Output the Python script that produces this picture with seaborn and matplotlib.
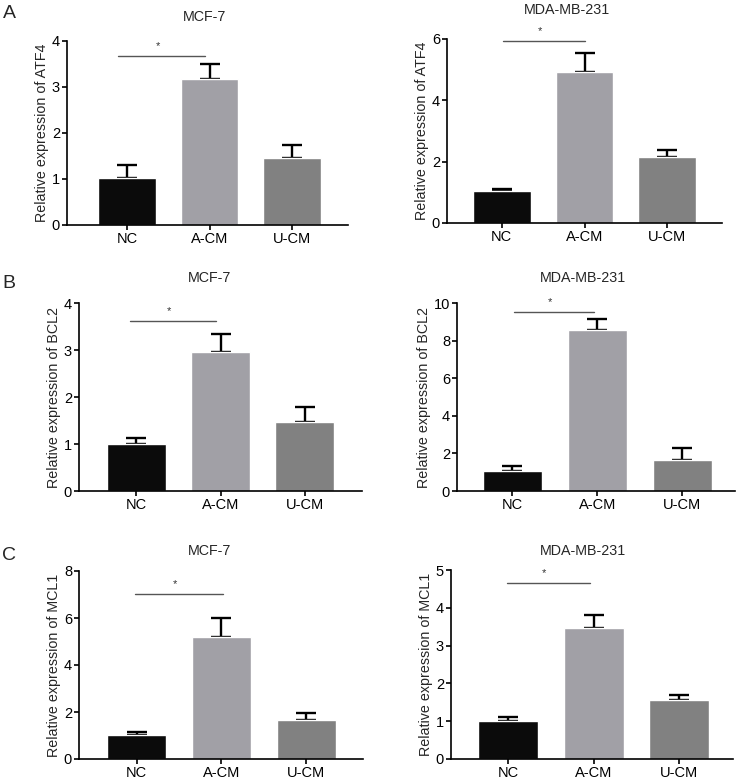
import matplotlib
matplotlib.use("Agg")
import matplotlib.pyplot as plt
import seaborn as sns
import pandas as pd

sns.set_theme(style="ticks")
plt.rcParams['font.family'] = ['Liberation Sans', 'DejaVu Sans']

categories = ["NC", "A-CM", "U-CM"]
bar_colors = ["#0b0b0b", "#a1a0a6", "#818181"]

atf4_mcf7 = [1.02, 3.18, 1.45]
atf4_mcf7_err = [0.29, 0.33, 0.30]
atf4_mda = [1.03, 4.91, 2.15]
atf4_mda_err = [0.09, 0.62, 0.24]
bcl2_mcf7 = [1.01, 2.95, 1.47]
bcl2_mcf7_err = [0.11, 0.39, 0.32]
bcl2_mda = [1.05, 8.58, 1.67]
bcl2_mda_err = [0.27, 0.58, 0.64]
mcl1_mcf7 = [1.03, 5.18, 1.64]
mcl1_mcf7_err = [0.10, 0.81, 0.31]
mcl1_mda = [1.01, 3.46, 1.57]
mcl1_mda_err = [0.09, 0.35, 0.11]

titles = ["MCF-7", "MDA-MB-231"]
genes = ["ATF4", "BCL2", "MCL1"]
ymax = [4, 6, 4, 10, 8, 5]
ystep = [1, 2, 1, 2, 2, 1]
sig_level = [3.68, 5.93, 3.62, 9.52, 7.01, 4.65]

panels = [
    (atf4_mcf7, atf4_mcf7_err), (atf4_mda, atf4_mda_err),
    (bcl2_mcf7, bcl2_mcf7_err), (bcl2_mda, bcl2_mda_err),
    (mcl1_mcf7, mcl1_mcf7_err), (mcl1_mda, mcl1_mda_err),
]

W, H = 739, 784
fig = plt.figure(figsize=(W / 100, H / 100), dpi=100)

boxes = [
    (67, 348, 41, 225), (447, 722, 39, 223),
    (79, 362, 303, 491), (457, 735, 303, 491),
    (79, 363, 571, 759), (451, 733, 570, 759),
]
xlims = [(-0.73, 2.68), (-0.66, 2.66), (-0.68, 2.68), (-0.65, 2.62), (-0.68, 2.67), (-0.67, 2.63)]
title_pos = [(205, 17), (567, 10), (210, 278), (583, 278), (210, 551), (583, 551)]
sig_x = [(-0.11, 0.95), (0.02, 1.01), (-0.07, 0.95), (0.02, 0.96), (-0.02, 1.02), (-0.02, 0.96)]

for i, ((vals, errs), (x0, x1, yt, yb)) in enumerate(zip(panels, boxes)):
    ax = fig.add_axes([x0 / W, 1 - yb / H, (x1 - x0) / W, (yb - yt) / H])
    df = pd.DataFrame({"group": categories, "value": vals})
    sns.barplot(data=df, x="group", y="value", hue="group", palette=bar_colors,
                width=0.7, ax=ax, legend=False, saturation=1, zorder=2)
    ax.errorbar(range(len(categories)), vals, yerr=[[0] * 3, errs], fmt="none",
                ecolor="black", elinewidth=1.7, capsize=7.5, capthick=1.7, zorder=1)
    ax.set_xlim(*xlims[i])
    ax.set_ylim(0, ymax[i])
    ax.set_yticks(range(0, ymax[i] + 1, ystep[i]))
    ax.set_xlabel("")
    ax.set_ylabel("Relative expression of " + genes[i // 2], fontsize=10.3, labelpad=2)
    for s in ["top", "right"]:
        ax.spines[s].set_visible(False)
    for s in ["left", "bottom"]:
        ax.spines[s].set_linewidth(1.2)
        ax.spines[s].set_color("black")
    ax.tick_params(axis="both", labelsize=10.5, width=1.2, length=3.5, colors="black", pad=1.5)
    sx0, sx1 = sig_x[i]
    ax.plot([sx0, sx1], [sig_level[i]] * 2, color="#555555", lw=1.0, clip_on=False)
    ax.text((sx0 + sx1) / 2 - 0.05, sig_level[i] + ymax[i] * 0.025, "*", ha="center",
            va="bottom", fontsize=8, color="#333333", clip_on=False)
    tx, ty = title_pos[i]
    fig.text(tx / W, 1 - ty / H, titles[i % 2], ha="center", va="center", fontsize=10.3)

for letter, (lx, ly) in zip(["A", "B", "C"], [(9, 14), (9, 284), (9, 556)]):
    fig.text(lx / W, 1 - ly / H, letter, ha="center", va="center", fontsize=14)

fig.savefig("out.png", dpi=100)
